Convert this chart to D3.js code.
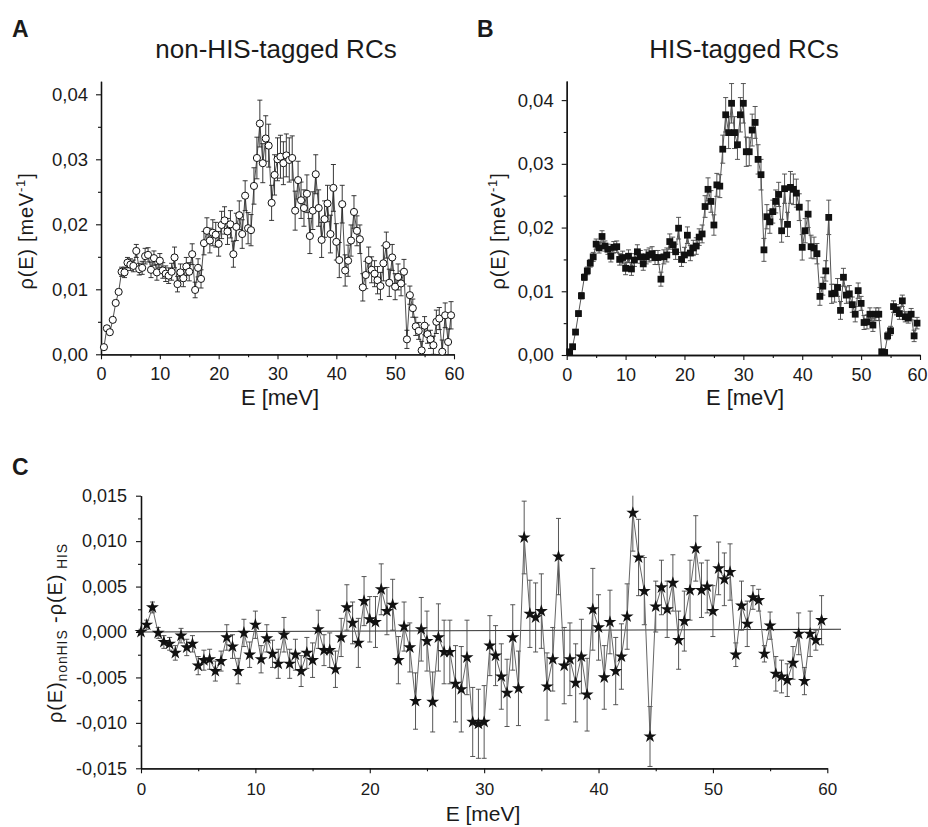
<!DOCTYPE html>
<html>
<head>
<meta charset="utf-8">
<script src="https://cdn.jsdelivr.net/npm/d3@7/dist/d3.min.js"></script>
<style>
  body { margin: 0; background: #fff; }
  svg text { font-family: "Liberation Sans", Arial, Helvetica, sans-serif; fill: #1a1a1a; }
</style>
</head>
<body>
<div id="chart"></div>
<script>
// energy grid (meV)
const energyC = [0,0.5,1,1.5,2,2.5,3,3.5,4,4.5,5,5.5,6,6.5,7,7.5,8,8.5,9,9.5,
  10,10.5,11,11.5,12,12.5,13,13.5,14,14.5,15,15.5,16,16.5,17,17.5,18,18.5,19,19.5,
  20,20.5,21,21.5,22,22.5,23,23.5,24,24.5,25,25.5,26,26.5,27,27.5,28,28.5,29,29.5,
  30,30.5,31,31.5,32,32.5,33,33.5,34,34.5,35,35.5,36,36.5,37,37.5,38,38.5,39,39.5,
  40,40.5,41,41.5,42,42.5,43,43.5,44,44.5,45,45.5,46,46.5,47,47.5,48,48.5,49,49.5,
  50,50.5,51,51.5,52,52.5,53,53.5,54,54.5,55,55.5,56,56.5,57,57.5,58,58.5,59,59.5]
const energyAB = energyC.slice(1)

// panel A: non-HIS-tagged RCs
const rhoNonHis = [0.0011,0.004,0.0034,0.0053,0.0079,0.0096,0.0127,0.0126,0.0141,0.0138,
  0.0136,0.0159,0.0131,0.0133,0.0151,0.0153,0.013,0.0148,0.0126,0.0144,
  0.0129,0.0124,0.0121,0.0127,0.0149,0.0108,0.0126,0.0117,0.0135,0.0127,
  0.0154,0.0099,0.0133,0.0116,0.0171,0.019,0.0175,0.0187,0.0184,0.017,
  0.0199,0.0206,0.0189,0.02,0.0154,0.0196,0.0214,0.0185,0.0244,0.0194,
  0.0191,0.0259,0.0302,0.0355,0.0294,0.0332,0.0321,0.0233,0.0276,0.03,
  0.0304,0.0294,0.0306,0.0299,0.0302,0.0221,0.0268,0.0237,0.0225,0.0247,
  0.0182,0.0221,0.0277,0.0225,0.0176,0.0208,0.0232,0.0185,0.0256,0.0173,
  0.0145,0.0231,0.0129,0.0144,0.0175,0.0219,0.019,0.0177,0.0103,0.0122,
  0.0145,0.013,0.0124,0.0114,0.0105,0.014,0.0168,0.011,0.0149,0.0104,
  0.0119,0.0109,0.0127,0.0023,0.0091,0.0071,0.0043,0.0036,0.0006,0.0044,
  0.0031,0.0023,0.0014,0.005,0.0055,0.0004,0.006,0.0019,0.006]
const errNonHis = [0.0003,0.0004,0.0003,0.0003,0.0004,0.0004,
  0.0007,0.0008,0.0008,0.0009,0.0009,
  0.001,0.0009,0.001,0.0012,0.0011,0.0012,0.0011,0.0012,0.0011,
  0.0012,0.0012,0.0012,0.0013,0.0016,0.0012,0.0013,0.0013,0.0014,0.0014,0.0016,0.0012,0.0014,0.0014,
  0.0018,0.002,0.0019,0.002,0.0019,0.0019,0.0021,0.0021,0.002,0.0021,0.002,0.0021,0.0022,0.0022,0.0023,0.0024,0.0024,
  0.0028,0.0032,0.0036,0.003,0.0035,0.0033,0.0027,0.0031,0.0033,0.0033,0.0033,0.0033,0.0034,0.0034,0.003,
  0.0029,0.0028,0.0028,0.0029,0.0027,0.0029,0.003,0.0028,0.0027,0.0028,0.0028,0.0029,0.0036,0.0028,0.0027,0.0029,
  0.0024,0.0024,0.0024,0.0025,0.0023,0.0022,0.0021,0.0021,0.002,0.002,0.002,0.0021,0.0021,0.0027,0.002,0.0021,0.002,0.002,0.002,0.0019,0.0019,
  0.0014,0.0014,0.0014,0.0014,0.0013,0.0014,0.0014,0.0014,0.0014,0.0014,0.0018,0.0017,0.0018,0.0019,0.002,0.0021]

// panel B: HIS-tagged RCs
const rhoHis = [0.0005,0.0013,0.0036,0.0065,0.0093,0.0122,0.0132,0.0144,0.0154,0.0174,
  0.0168,0.0186,0.0171,0.0166,0.0155,0.0169,0.017,0.015,0.0153,0.0136,
  0.0155,0.0135,0.0149,0.0162,0.0154,0.0143,0.0154,0.0157,0.0159,0.0153,
  0.0153,0.0119,0.0154,0.0157,0.0178,0.0173,0.0162,0.0199,0.015,0.0157,
  0.0188,0.016,0.0168,0.0171,0.0185,0.019,0.0233,0.026,0.0241,0.0204,
  0.0267,0.0265,0.0323,0.0377,0.0349,0.0395,0.0349,0.033,0.0377,0.0395,
  0.0319,0.0319,0.0353,0.0365,0.0307,0.0283,0.0165,0.0217,0.0209,0.0225,
  0.0241,0.0252,0.0195,0.0261,0.0205,0.0263,0.026,0.0254,0.0232,0.0169,
  0.0195,0.0221,0.017,0.0168,0.0159,0.0092,0.0108,0.0132,0.0216,0.0096,
  0.0097,0.0106,0.007,0.0122,0.0094,0.0096,0.0079,0.0064,0.0101,0.0081,
  0.0051,0.0052,0.0064,0.0047,0.0064,0.0064,0.0005,0.0004,0.003,0.0038,
  0.0076,0.0071,0.0065,0.0085,0.006,0.0058,0.0064,0.003,0.005]
const errHis = [0.0003,0.0003,0.0004,0.0004,0.0005,0.0005,
  0.0006,0.0006,0.0007,0.0008,0.0008,
  0.0009,0.0008,0.0008,0.0009,0.0009,0.0009,0.0009,0.001,0.001,
  0.001,0.001,0.001,0.0011,0.001,0.001,0.0011,0.0011,0.0011,0.0011,0.0011,0.0011,0.0011,0.0011,
  0.0012,0.0012,0.0012,0.0017,0.0011,0.0012,0.0013,0.0012,0.0012,0.0013,0.0013,0.0014,0.0017,0.0018,0.0017,0.0016,0.0018,
  0.0018,0.0022,0.0027,0.0025,0.0031,0.0025,0.0023,0.0027,0.0031,0.0023,0.0022,0.0025,0.0025,0.0023,0.0024,
  0.0018,0.0019,0.0018,0.0018,0.0018,0.0019,0.0018,0.0023,0.0019,0.0025,0.0024,0.0022,0.0021,0.002,0.0019,0.0021,
  0.0018,0.0017,0.0016,0.0014,0.0014,0.0016,0.0027,0.0015,0.0014,0.0014,0.0014,0.0014,0.0013,0.0013,0.0012,0.0012,0.0012,0.0011,0.0011,0.0011,0.001,
  0.001,0.001,0.001,0.0004,0.0004,0.0006,0.0007,0.0009,0.0008,0.0009,0.0009,0.0008,0.0008,0.0009,0.0009,0.0009]

// panel C: difference nonHIS - HIS
const rhoDiff = [0,0.0008,0.0027,-0.0001,-0.0011,-0.0013,-0.0023,-0.0004,-0.0017,-0.0013,
  -0.0037,-0.0031,-0.003,-0.0043,-0.0032,-0.0006,-0.0016,-0.0043,-0.0001,-0.0025,
  0.0008,-0.003,-0.0007,-0.0024,-0.0035,-0.0003,-0.0035,-0.0025,-0.0043,-0.0023,
  -0.0031,0.0003,-0.002,-0.002,-0.0041,-0.0006,0.0027,0.001,-0.0012,0.0034,
  0.0014,0.0011,0.0047,0.0023,0.003,-0.0031,0.0006,-0.0017,-0.0076,0.0003,
  -0.001,-0.0077,-0.0006,-0.0022,-0.0022,-0.0057,-0.0063,-0.0028,-0.0099,-0.0101,
  -0.0099,-0.0015,-0.0026,-0.0049,-0.0067,-0.0006,-0.0062,0.0104,0.002,0.0016,
  0.0023,-0.006,-0.003,0.0083,-0.0037,-0.003,-0.0056,-0.0027,-0.0069,0.0025,
  0.0005,-0.005,0.0011,-0.0043,-0.0027,0.0017,0.0131,0.0082,0.0045,-0.0115,
  0.0028,0.0049,0.0025,0.0054,-0.0009,0.0012,0.0046,0.0092,0.0046,0.005,
  0.0023,0.007,0.0058,0.0066,-0.0025,0.0029,0.0009,0.0038,0.0035,-0.0024,
  0.0007,-0.0046,-0.0049,-0.0053,-0.0034,-0.0002,-0.0054,-0.0002,-0.0009,0.0013]
const errDiff = [0.0003,0.0005,0.0006,0.0006,0.0007,0.0007,0.0008,0.0008,0.0009,0.0009,
  0.001,0.0011,0.0011,0.0011,0.0011,0.0014,0.0013,0.0014,0.0015,0.0014,
  0.0015,0.0015,0.0015,0.0015,0.0016,0.0019,0.0016,0.0017,0.0017,0.0017,
  0.0019,0.0021,0.0017,0.0019,0.002,0.0021,0.0025,0.0023,0.0027,0.0027,
  0.0025,0.0028,0.0028,0.0026,0.0028,0.0026,0.0027,0.0027,0.0031,0.0035,
  0.0033,0.0033,0.0037,0.0035,0.0035,0.0042,0.0047,0.0041,0.0038,0.0038,
  0.004,0.0033,0.0033,0.0036,0.0037,0.0036,0.0041,0.004,0.0037,0.0038,
  0.0041,0.0037,0.0035,0.0042,0.0042,0.004,0.0043,0.0041,0.004,0.0045,
  0.0036,0.0035,0.0035,0.0037,0.0036,0.0036,0.0042,0.0042,0.0037,0.0033,
  0.0028,0.003,0.0031,0.0031,0.0032,0.0033,0.0033,0.0036,0.003,0.0029,
  0.0028,0.0029,0.0029,0.0031,0.0013,0.0027,0.0025,0.0013,0.0012,0.0009,
  0.0015,0.0019,0.0018,0.0018,0.0018,0.0023,0.0015,0.0025,0.0011,0.0027]
// roughly horizontal reference line in panel C
const zeroLineE = [0, 61.2]
const zeroLineVal = [0, 0.0003]

const xTicks = [0, 10, 20, 30, 40, 50, 60]

let locale = d3.formatLocale({decimal: ",", thousands: ".", grouping: [3], currency: ["", ""], minus: "-"})

let svg = d3.select('#chart')
    .append('svg')
    .attr('width', 928)
    .attr('height', 827)

function drawPanel(p) {
    let x = d3.scaleLinear().domain([0, 60]).range([p.left, p.right])
    let y = d3.scaleLinear().domain(p.yDomain).range([p.bottom, p.top])
    let yc = y.copy().clamp(true)

    let g = svg.append('g')

    // minor ticks first, then the labelled axes on top
    g.append('g')
        .attr('transform', "translate(0," + p.bottom + ")")
        .call(d3.axisBottom(x).tickValues([5, 15, 25, 35, 45, 55]).tickSize(3).tickSizeOuter(0).tickFormat(''))
    g.append('g')
        .attr('transform', "translate(" + p.left + ",0)")
        .call(d3.axisLeft(y).tickValues(p.yMinor).tickSize(3).tickSizeOuter(0).tickFormat(''))

    let xAxis = g.append('g')
        .attr('transform', "translate(0," + p.bottom + ")")
        .call(d3.axisBottom(x).tickValues(xTicks).tickSize(5).tickPadding(p.xPad).tickSizeOuter(0))
    xAxis.selectAll('text').style('font-size', p.tickFont + 'px')
    // last label sits right at the page edge
    xAxis.selectAll('text').filter(d => d === 60).attr('dx', p.lastDx || 0)

    let yAxis = g.append('g')
        .attr('transform', "translate(" + p.left + ",0)")
        .call(d3.axisLeft(y).tickValues(p.yTicks).tickSize(5).tickPadding(p.yPad).tickSizeOuter(0)
            .tickFormat(locale.format(p.fmt)))
    yAxis.selectAll('text').style('font-size', p.yTickFont + 'px')

    g.selectAll('.domain').attr('stroke', '#111').attr('stroke-width', 1.3)
    g.selectAll('.tick line').attr('stroke', '#111').attr('stroke-width', 1.1)

    if (p.refLine) {
        g.append('path')
            .datum(d3.zip(zeroLineE, zeroLineVal))
            .attr('fill', 'none')
            .attr('stroke', '#333')
            .attr('stroke-width', 1.1)
            .attr('d', d3.line().x(d => x(d[0])).y(d => y(d[1])))
    }

    let pts = d3.zip(p.energy, p.values, p.errors)

    // error bars
    let eb = g.append('g').attr('stroke', p.errColor).attr('stroke-width', 0.9)
    eb.selectAll('line.bar')
        .data(pts)
        .enter()
        .append('line')
        .attr('x1', d => x(d[0])).attr('x2', d => x(d[0]))
        .attr('y1', d => yc(d[1] - d[2])).attr('y2', d => yc(d[1] + d[2]))
    let caps = []
    pts.forEach(d => {
        let lo = d[1] - d[2], hi = d[1] + d[2]
        if (lo >= p.yDomain[0]) caps.push([d[0], lo])
        if (hi <= p.yDomain[1]) caps.push([d[0], hi])
    })
    eb.selectAll('line.cap')
        .data(caps)
        .enter()
        .append('line')
        .attr('x1', d => x(d[0]) - 2.5).attr('x2', d => x(d[0]) + 2.5)
        .attr('y1', d => y(d[1])).attr('y2', d => y(d[1]))

    // connecting line
    g.append('path')
        .datum(pts)
        .attr('fill', 'none')
        .attr('stroke', p.lineColor)
        .attr('stroke-width', p.lineWidth)
        .attr('d', d3.line().x(d => x(d[0])).y(d => y(d[1])))

    // markers
    g.selectAll('path.mark')
        .data(pts)
        .enter()
        .append('path')
        .attr('transform', d => "translate(" + x(d[0]) + "," + y(d[1]) + ")")
        .attr('d', d3.symbol().type(p.symbol).size(p.symbolSize))
        .attr('fill', p.fill)
        .attr('stroke', p.stroke)
        .attr('stroke-width', p.strokeWidth)

    // axis title
    g.append('text')
        .attr('x', p.xLabelX)
        .attr('y', p.xLabelY)
        .attr('text-anchor', 'middle')
        .style('font-size', p.xLabelFont + 'px')
        .text('E [meV]')
}

// panel A
drawPanel({
    left: 101, right: 454, top: 81.3, bottom: 354.3,
    yDomain: [0, 0.042], yTicks: [0, 0.01, 0.02, 0.03, 0.04], yMinor: [0.005, 0.015, 0.025, 0.035],
    fmt: '.2f', tickFont: 18, yTickFont: 18.5, xPad: 8, yPad: 8,
    xLabelX: 280, xLabelY: 405, xLabelFont: 22,
    energy: energyAB, values: rhoNonHis, errors: errNonHis,
    errColor: '#222', lineColor: '#222', lineWidth: 0.8,
    symbol: d3.symbolCircle, symbolSize: 40, fill: '#fff', stroke: '#111', strokeWidth: 1
})

// panel B
drawPanel({
    left: 566.7, right: 920, top: 81, bottom: 355,
    yDomain: [0, 0.043], yTicks: [0, 0.01, 0.02, 0.03, 0.04], yMinor: [0.005, 0.015, 0.025, 0.035],
    fmt: '.2f', tickFont: 18, yTickFont: 18.5, xPad: 8, yPad: 8, lastDx: -3,
    xLabelX: 745, xLabelY: 405, xLabelFont: 22,
    energy: energyAB, values: rhoHis, errors: errHis,
    errColor: '#444', lineColor: '#555', lineWidth: 1,
    symbol: d3.symbolSquare, symbolSize: 46, fill: '#111', stroke: 'none', strokeWidth: 0
})

// panel C
drawPanel({
    left: 141, right: 827.3, top: 495.7, bottom: 768.3,
    yDomain: [-0.015, 0.015],
    yTicks: [-0.015, -0.01, -0.005, 0, 0.005, 0.01, 0.015],
    yMinor: [-0.0125, -0.0075, -0.0025, 0.0025, 0.0075, 0.0125],
    fmt: '.3f', tickFont: 17, yTickFont: 18, xPad: 10, yPad: 9,
    xLabelX: 483, xLabelY: 821, xLabelFont: 21, refLine: true,
    energy: energyC, values: rhoDiff, errors: errDiff,
    errColor: '#444', lineColor: '#666', lineWidth: 1,
    symbol: d3.symbolStar, symbolSize: 52, fill: '#111', stroke: 'none', strokeWidth: 0
})

// panel letters
svg.append('text').attr('x', 12).attr('y', 37).style('font-size', '23px').style('font-weight', 'bold').text('A')
svg.append('text').attr('x', 477).attr('y', 37).style('font-size', '23px').style('font-weight', 'bold').text('B')
svg.append('text').attr('x', 12).attr('y', 475).style('font-size', '23px').style('font-weight', 'bold').text('C')

// panel titles
svg.append('text').attr('x', 276).attr('y', 58).attr('text-anchor', 'middle')
    .style('font-size', '26px').text('non-HIS-tagged RCs')
svg.append('text').attr('x', 744).attr('y', 58).attr('text-anchor', 'middle')
    .style('font-size', '26px').text('HIS-tagged RCs')

// y axis titles (rotated)
function rhoLabel(cx, cy) {
    let t = svg.append('text')
        .attr('transform', "translate(" + cx + "," + cy + ") rotate(-90)")
        .attr('text-anchor', 'middle')
        .style('font-size', '20px')
        .style('letter-spacing', '0.8px')
    t.append('tspan').text('ρ(E) [meV')
    t.append('tspan').attr('dy', -8).style('font-size', '13px').text('-1')
    t.append('tspan').attr('dy', 8).text(']')
}
rhoLabel(32.5, 231)
rhoLabel(505, 231)

let tc = svg.append('text')
    .attr('transform', "translate(62,633) rotate(-90)")
    .attr('text-anchor', 'middle')
    .style('font-size', '20px')
    .style('letter-spacing', '0.9px')
tc.append('tspan').text('ρ(E)')
tc.append('tspan').attr('dy', 5).style('font-size', '14px').text('nonHIS')
tc.append('tspan').attr('dy', -5).text(' -ρ(E)')
tc.append('tspan').attr('dy', 5).style('font-size', '14px').text(' HIS')
</script>
</body>
</html>
